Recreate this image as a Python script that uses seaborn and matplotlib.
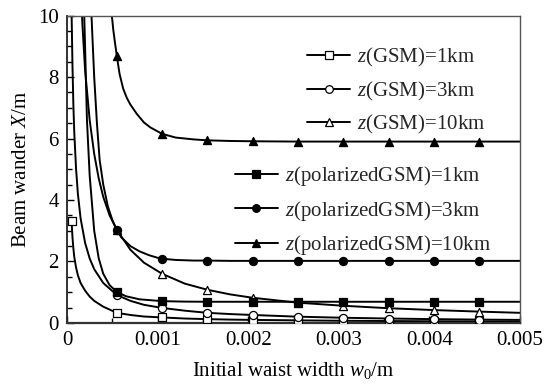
import numpy as np
import pandas as pd
import matplotlib
matplotlib.use("Agg")
import matplotlib.pyplot as plt
from matplotlib.lines import Line2D
from matplotlib.ticker import MultipleLocator
import seaborn as sns

# Initial waist width w0 (m) and beam wander X (m) for each propagation distance
w_gsm1 = [0.00005, 0.00006, 0.00007, 0.00008, 0.0001, 0.00012, 0.00015, 0.0002, 0.00025,
          0.0003, 0.0004, 0.00055, 0.0007, 0.00085, 0.00105, 0.0013, 0.00155, 0.0018,
          0.00205, 0.00255, 0.00305, 0.00355, 0.00405, 0.00455, 0.005]
x_gsm1 = [3.32, 2.80, 2.43, 2.15, 1.80, 1.55, 1.30, 1.05, 0.86,
          0.72, 0.53, 0.33, 0.26, 0.21, 0.18, 0.145, 0.125, 0.11,
          0.10, 0.085, 0.072, 0.063, 0.056, 0.05, 0.046]

w_gsm3 = [0.00005, 0.00006, 0.00007, 0.00008, 0.0001, 0.00012, 0.00015, 0.0002, 0.00025,
          0.0003, 0.0004, 0.00055, 0.0007, 0.00085, 0.00105, 0.0013, 0.00155, 0.0018,
          0.00205, 0.00255, 0.00305, 0.00355, 0.00405, 0.00455, 0.005]
x_gsm3 = [10.15, 8.4, 7.1, 6.2, 5.0, 4.2, 3.4, 2.6, 2.1,
          1.75, 1.3, 0.91, 0.72, 0.59, 0.49, 0.40, 0.33, 0.29,
          0.26, 0.205, 0.17, 0.145, 0.125, 0.11, 0.10]

w_gsm10 = [0.00015, 0.00017, 0.0002, 0.00025, 0.0003, 0.00035, 0.0004, 0.00047, 0.00055,
           0.0007, 0.00085, 0.00105, 0.0013, 0.00155, 0.0018, 0.00205, 0.00255, 0.00305,
           0.00355, 0.00405, 0.00455, 0.005]
x_gsm10 = [11.0, 9.7, 8.2, 6.6, 5.5, 4.7, 4.1, 3.5, 3.03,
           2.38, 1.96, 1.60, 1.28, 1.08, 0.93, 0.82, 0.66, 0.56,
           0.48, 0.42, 0.37, 0.33]

w_pol1 = [0.00017, 0.00019, 0.0002, 0.00022, 0.00025, 0.0003, 0.00035, 0.0004, 0.00047,
          0.00055, 0.00065, 0.0008, 0.00105, 0.0013, 0.00155, 0.00205, 0.00255, 0.00305,
          0.00355, 0.00405, 0.00455, 0.005]
x_pol1 = [12.5, 10.0, 8.9, 6.6, 4.8, 3.0, 2.1, 1.6, 1.23,
          1.01, 0.87, 0.77, 0.71, 0.695, 0.69, 0.69, 0.69, 0.69,
          0.69, 0.69, 0.69, 0.69]

w_pol3 = [0.00025, 0.00027, 0.0003, 0.00033, 0.00036, 0.0004, 0.00045, 0.0005, 0.00055,
          0.0006, 0.0007, 0.0008, 0.0009, 0.001, 0.00105, 0.0012, 0.0014, 0.00155,
          0.0018, 0.00205, 0.00255, 0.00305, 0.00355, 0.00405, 0.00455, 0.005]
x_pol3 = [12.0, 10.0, 8.0, 6.5, 5.3, 4.5, 3.8, 3.35, 3.02,
          2.78, 2.50, 2.33, 2.21, 2.12, 2.09, 2.05, 2.03, 2.03,
          2.02, 2.02, 2.02, 2.02, 2.02, 2.02, 2.02, 2.02]

w_pol10 = [0.00049, 0.0005, 0.00051, 0.00053, 0.00055, 0.00058, 0.00062, 0.00066, 0.0007,
           0.00077, 0.00085, 0.00092, 0.00105, 0.0012, 0.0014, 0.00155, 0.0018, 0.00205,
           0.00255, 0.00305, 0.00355, 0.00405, 0.00455, 0.005]
x_pol10 = [10.1, 9.85, 9.55, 9.1, 8.68, 8.1, 7.62, 7.32, 7.1,
           6.8, 6.52, 6.36, 6.15, 6.03, 5.97, 5.94, 5.92, 5.91,
           5.9, 5.9, 5.9, 5.9, 5.9, 5.9]

# Widths at which the symbols are placed on every curve
marker_w = [0.00005, 0.00055, 0.00105, 0.00155, 0.00205, 0.00255, 0.00305, 0.00355, 0.00405, 0.00455]

labels = ["$z$(GSM)=1km", "$z$(GSM)=3km", "$z$(GSM)=10km",
          "$z$(polarizedGSM)=1km", "$z$(polarizedGSM)=3km", "$z$(polarizedGSM)=10km"]
xtick_vals = [0, 0.001, 0.002, 0.003, 0.004, 0.005]
xtick_labels = ["0", "0.001", "0.002", "0.003", "0.004", "0.005"]
ytick_vals = [0, 2, 4, 6, 8, 10]

sns.set_theme(style="white")
plt.rcParams["font.family"] = ["Liberation Serif", "DejaVu Serif"]
plt.rcParams["mathtext.fontset"] = "custom"
plt.rcParams["mathtext.rm"] = "Liberation Serif"
plt.rcParams["mathtext.it"] = "Liberation Serif:italic"

FS = 15

series = [
    (w_gsm1, x_gsm1, "s", "white"),
    (w_gsm3, x_gsm3, "o", "white"),
    (w_gsm10, x_gsm10, "^", "white"),
    (w_pol1, x_pol1, "s", "black"),
    (w_pol3, x_pol3, "o", "black"),
    (w_pol10, x_pol10, "^", "black"),
]

fig = plt.figure(figsize=(5.48, 3.84), dpi=100)
ax = fig.add_axes([0.1223, 0.1589, 0.8266, 0.8007])

for (w, xv, mk, fc), lab in zip(series, labels):
    df = pd.DataFrame({"w": w, "X": xv})
    sns.lineplot(data=df, x="w", y="X", ax=ax, color="black", lw=1.4,
                 estimator=None, sort=False, legend=False)
    mdf = df[np.isin(np.round(df["w"], 6), np.round(marker_w, 6))]
    sns.scatterplot(data=mdf, x="w", y="X", ax=ax, marker=mk, s=34,
                    facecolor=fc, edgecolor="black", linewidth=0.9,
                    legend=False, zorder=3)

ax.set_xlim(0, 0.005)
ax.set_ylim(0, 10)
ax.set_xticks(xtick_vals)
ax.set_xticklabels(xtick_labels)
ax.set_yticks(ytick_vals)
ax.xaxis.set_minor_locator(MultipleLocator(0.0005))
ax.yaxis.set_minor_locator(MultipleLocator(0.5))
ax.tick_params(which="both", direction="in", top=False, right=False,
               bottom=True, left=True, colors="black", labelsize=FS)
ax.tick_params(which="major", length=5, width=1, pad=6)
ax.tick_params(which="minor", length=3.5, width=1)
for sp in ax.spines.values():
    sp.set_color("#555555")
    sp.set_linewidth(1.0)
ax.spines["bottom"].set_color("#333333")
ax.spines["bottom"].set_linewidth(1.6)
ax.spines["left"].set_color("#222222")
ax.spines["left"].set_linewidth(1.3)

ax.set_xlabel("Initial waist width $w_0$/m", fontsize=FS, labelpad=7, color="black")
ax.set_ylabel("Beam wander $X$/m", fontsize=FS, labelpad=5, color="black")

def handle(mk, fc):
    return Line2D([], [], color="black", lw=1.4, marker=mk, markersize=5.5,
                  markerfacecolor=fc, markeredgecolor="black", markeredgewidth=0.9)

h_gsm = [handle(mk, fc) for (_, _, mk, fc) in series[:3]]
h_pol = [handle(mk, fc) for (_, _, mk, fc) in series[3:]]

leg1 = ax.legend(h_gsm, labels[:3], loc="upper left", bbox_to_anchor=(0.529, 0.90),
                 frameon=False, fontsize=FS, handlelength=2.1, handletextpad=0.3,
                 labelspacing=0.5, borderaxespad=0, borderpad=0)
ax.add_artist(leg1)
ax.legend(h_pol, labels[3:], loc="upper left", bbox_to_anchor=(0.37, 0.516),
          frameon=False, fontsize=FS, handlelength=2.1, handletextpad=0.3,
          labelspacing=0.5, borderaxespad=0, borderpad=0)

fig.savefig("out.png", dpi=100)
